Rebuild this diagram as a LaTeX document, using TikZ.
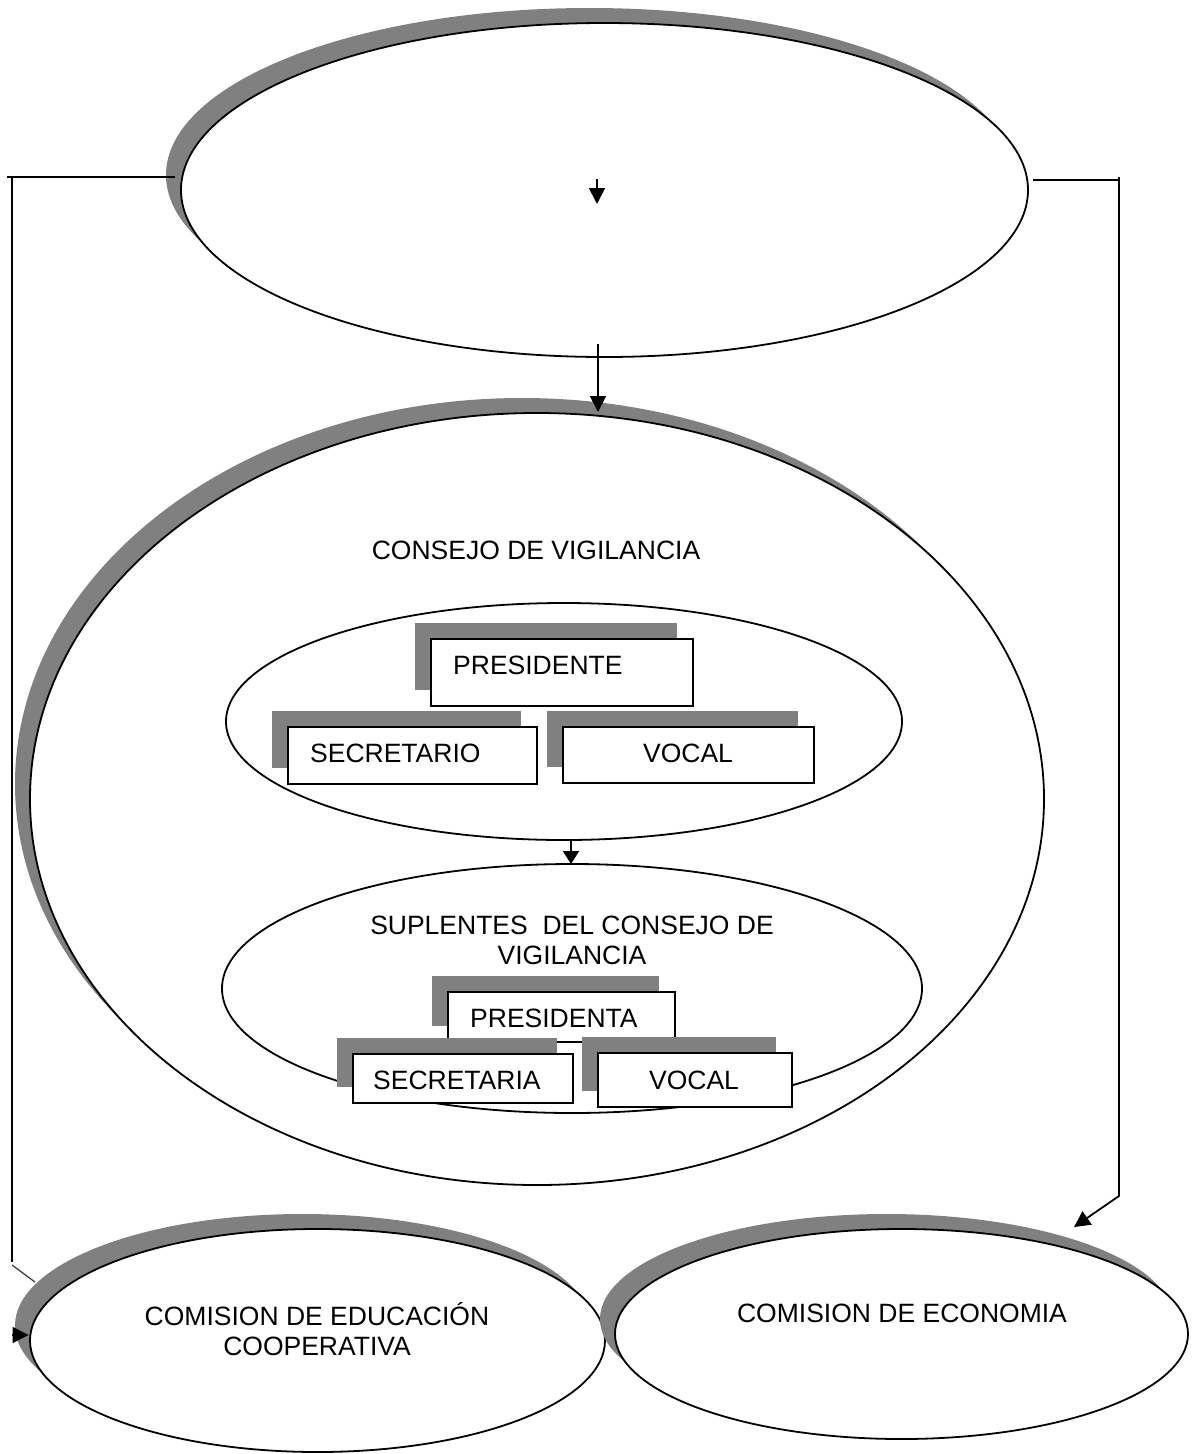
\documentclass[tikz,border=0pt]{standalone}
\usepackage{fontspec}
\setmainfont{Liberation Sans}
\usetikzlibrary{shapes.geometric,shadows,arrows.meta}
\begin{document}
\begin{tikzpicture}[x=1pt,y=-1pt,
  oval/.style={draw=black, fill=white, ellipse, line width=1.8pt, inner sep=0pt},
  shoval/.style={oval, general shadow={shadow xshift=-15pt, shadow yshift=15pt, fill=black!50}},
  box/.style={draw=black, fill=white, rectangle, line width=1.8pt, inner sep=0pt,
    general shadow={shadow xshift=-16pt, shadow yshift=16pt, fill=black!50}},
  txt/.style={font=\fontsize{26.5}{30}\selectfont, inner sep=0pt, anchor=base},
  conn/.style={line width=1.8pt},
  arr/.style={conn, -{Triangle[length=16pt,width=16pt]}}]
\useasboundingbox (0,0) rectangle (1196,1454);

% ellipses
\node[shoval, minimum width=847pt, minimum height=334pt] (top) at (604.5,190) {};
\node[shoval, minimum width=1014pt, minimum height=772pt] (vig) at (537,799) {};
\node[oval, minimum width=676pt, minimum height=237pt] (mesa) at (564,721.5) {};
\node[oval, minimum width=700pt, minimum height=249pt] (supl) at (572,988.5) {};
\node[shoval, minimum width=575pt, minimum height=223pt] (edu) at (317.5,1340.5) {};
\node[shoval, minimum width=573pt, minimum height=210pt] (eco) at (901.5,1334) {};

% boxes
\node[box, minimum width=262pt, minimum height=67pt] (pres) at (562,672.5) {};
\node[box, minimum width=249pt, minimum height=57pt] (secr) at (412.5,755.5) {};
\node[box, minimum width=251pt, minimum height=56pt] (voc) at (688.5,755) {};
\node[box, minimum width=227pt, minimum height=50pt] (presa) at (561.5,1017) {};
\node[box, minimum width=220pt, minimum height=49pt] (secra) at (463,1078.5) {};
\node[box, minimum width=194pt, minimum height=54pt] (voca) at (695,1080) {};

% texts
\node[txt] (tvig) at (536,559) {CONSEJO DE VIGILANCIA};
\node[txt, anchor=base west] (tpres) at (453,674) {PRESIDENTE};
\node[txt, anchor=base west] (tsecr) at (310,762) {SECRETARIO};
\node[txt] (tvoc) at (688,762) {VOCAL};
\node[txt] (tsup1) at (572,934) {SUPLENTES\ \ DEL CONSEJO DE};
\node[txt] (tsup2) at (572,964) {VIGILANCIA};
\node[txt, anchor=base west] (tpresa) at (470,1027) {PRESIDENTA};
\node[txt, anchor=base west] (tsecra) at (373,1089) {SECRETARIA};
\node[txt] (tvoca) at (694,1089) {VOCAL};
\node[txt] (tedu1) at (317,1325) {COMISION DE EDUCACIÓN};
\node[txt] (tedu2) at (317,1355) {COOPERATIVA};
\node[txt] (teco) at (902,1322) {COMISION DE ECONOMIA};

% connector points
\coordinate (s1) at (597,179);
\coordinate (e1) at (597,204);
\coordinate (s2) at (598,344);
\coordinate (e2) at (598,412);
\coordinate (s3) at (571,840);
\coordinate (e3) at (571,864);
\coordinate (l0) at (7,177);
\coordinate (l1) at (175,177);
\coordinate (l2) at (12,177);
\coordinate (l3) at (12,1262);
\coordinate (l4) at (12,1265);
\coordinate (l5) at (35,1282);
\coordinate (l6) at (12,1335);
\coordinate (l7) at (28.5,1335);
\coordinate (r0) at (1033,180);
\coordinate (r1) at (1119,180);
\coordinate (r2) at (1119,177);
\coordinate (r3) at (1119,1196);
\coordinate (r4) at (1074,1227);

% connectors
\draw[arr] (s1) -- (e1);
\draw[arr] (s2) -- (e2);
\draw[conn, -{Triangle[length=13pt,width=16pt]}] (s3) -- (e3);
\draw[conn] (l0) -- (l1);
\draw[conn] (l2) -- (l3);
\draw[line width=1.3pt, black!75] (l4) -- (l5);
\draw[arr] (l6) -- (l7);
\draw[conn] (r0) -- (r1);
\draw[arr] (r2) -- (r3) -- (r4);
\end{tikzpicture}
\end{document}
